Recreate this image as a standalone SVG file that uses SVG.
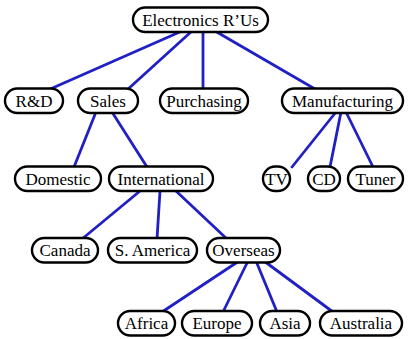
<svg xmlns="http://www.w3.org/2000/svg" width="410" height="339" viewBox="0 0 410 339">
<style>
.e{stroke:#2020c4;stroke-width:2.8;fill:none;stroke-linecap:round}
.n rect{fill:#fff;stroke:#000;stroke-width:2.4}
.n text{font-family:"Liberation Serif","DejaVu Serif",serif;font-size:17px;fill:#000;text-anchor:middle;dominant-baseline:central}
</style>
<rect width="410" height="339" fill="#fff"/>
<g id="edges">
<line class="e" x1="182" y1="31" x2="48" y2="90"/>
<line class="e" x1="192" y1="31" x2="127" y2="90"/>
<line class="e" x1="203" y1="31" x2="203" y2="89"/>
<line class="e" x1="215" y1="31" x2="315" y2="89"/>
<line class="e" x1="96" y1="112" x2="74" y2="167"/>
<line class="e" x1="112" y1="112" x2="147" y2="167"/>
<line class="e" x1="336" y1="112" x2="292" y2="167"/>
<line class="e" x1="341" y1="112" x2="330" y2="167"/>
<line class="e" x1="346" y1="112" x2="373" y2="167"/>
<line class="e" x1="140" y1="191" x2="82" y2="239"/>
<line class="e" x1="160" y1="191" x2="157" y2="239"/>
<line class="e" x1="176" y1="191" x2="227" y2="239"/>
<line class="e" x1="239" y1="261" x2="162" y2="312"/>
<line class="e" x1="248" y1="261" x2="223" y2="312"/>
<line class="e" x1="256" y1="261" x2="277" y2="312"/>
<line class="e" x1="264" y1="261" x2="333" y2="312"/>
</g>
<g id="electronics" class="n"><rect x="133" y="7.5" width="135" height="24.5" rx="12.25"/><text x="200.5" y="20">Electronics R’Us</text></g>
<g id="rd" class="n"><rect x="5" y="88.5" width="58" height="24.5" rx="12.25"/><text x="34" y="101">R&amp;D</text></g>
<g id="sales" class="n"><rect x="78" y="88.5" width="60" height="24.5" rx="12.25"/><text x="108" y="101">Sales</text></g>
<g id="purchasing" class="n"><rect x="160" y="88.5" width="88" height="24.5" rx="12.25"/><text x="204" y="101">Purchasing</text></g>
<g id="manufacturing" class="n"><rect x="282" y="88.5" width="121" height="24.5" rx="12.25"/><text x="342.5" y="101">Manufacturing</text></g>
<g id="domestic" class="n"><rect x="15" y="166.5" width="86" height="24.5" rx="12.25"/><text x="58" y="179">Domestic</text></g>
<g id="international" class="n"><rect x="109" y="166.5" width="104" height="24.5" rx="12.25"/><text x="161" y="179">International</text></g>
<g id="tv" class="n"><rect x="263" y="166.5" width="27" height="24.5" rx="12.25"/><text x="276.5" y="179">TV</text></g>
<g id="cd" class="n"><rect x="308" y="166.5" width="32" height="24.5" rx="12.25"/><text x="324" y="179">CD</text></g>
<g id="tuner" class="n"><rect x="348" y="166.5" width="55" height="24.5" rx="12.25"/><text x="375.5" y="179">Tuner</text></g>
<g id="canada" class="n"><rect x="32" y="238" width="66" height="24.5" rx="12.25"/><text x="65" y="250.5">Canada</text></g>
<g id="samerica" class="n"><rect x="108" y="238" width="89" height="24.5" rx="12.25"/><text x="152.5" y="250.5">S. America</text></g>
<g id="overseas" class="n"><rect x="207" y="238" width="73" height="24.5" rx="12.25"/><text x="243.5" y="250.5">Overseas</text></g>
<g id="africa" class="n"><rect x="118" y="311" width="57" height="24.5" rx="12.25"/><text x="146.5" y="323.5">Africa</text></g>
<g id="europe" class="n"><rect x="182" y="311" width="70" height="24.5" rx="12.25"/><text x="217" y="323.5">Europe</text></g>
<g id="asia" class="n"><rect x="260" y="311" width="50" height="24.5" rx="12.25"/><text x="285" y="323.5">Asia</text></g>
<g id="australia" class="n"><rect x="320" y="311" width="82" height="24.5" rx="12.25"/><text x="361" y="323.5">Australia</text></g>
</svg>
